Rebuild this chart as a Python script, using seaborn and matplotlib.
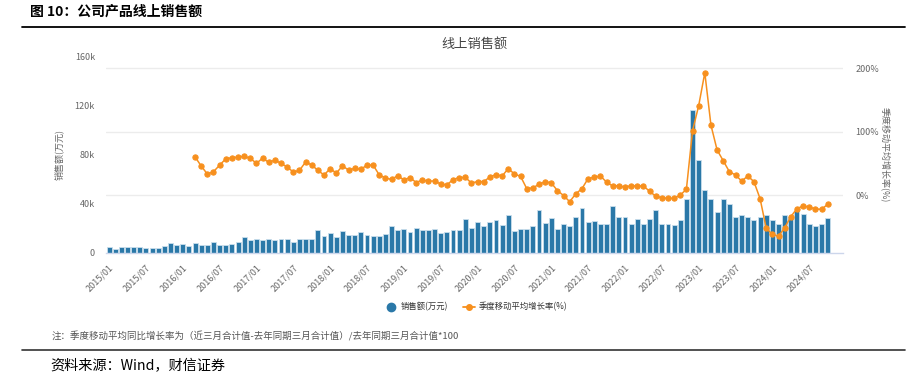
import numpy as np
import pandas as pd
import matplotlib
matplotlib.use("Agg")
import matplotlib.pyplot as plt
import matplotlib.transforms as mtransforms
from matplotlib.lines import Line2D
import seaborn as sns

sns.set_style("white")
plt.rcParams['font.family'] = ['Noto Sans CJK SC', 'DejaVu Sans']
plt.rcParams['axes.unicode_minus'] = False

# ===================== 数据 =====================
months = [f"{y}/{m:02d}" for y in range(2015, 2025) for m in range(1, 13)]  # 2015/01 - 2024/12

# 线上销售额 (k 万元), 2015/01 - 2024/10
sales = [
    4.6, 3.0, 5.1, 5.1, 5.1, 5.1, 4.1, 4.1, 4.1, 5.4,
    8.1, 6.8, 7.6, 5.7, 8.1, 6.8, 6.8, 8.7, 6.5, 6.2,
    7.6, 9.2, 13.3, 10.6, 11.1, 10.8, 11.1, 10.6, 11.6, 11.0,
    9.2, 11.1, 11.6, 11.1, 18.4, 13.5, 16.5, 12.7, 17.9, 14.9,
    14.9, 17.3, 14.4, 13.8, 13.8, 15.7, 22.2, 19.0, 19.5, 17.3,
    20.0, 19.0, 18.4, 19.5, 16.5, 17.1, 18.4, 18.7, 27.9, 20.0,
    25.2, 22.2, 25.2, 26.8, 22.7, 31.1, 18.1, 19.2, 19.5, 22.2,
    34.7, 24.6, 28.4, 19.5, 23.8, 22.2, 29.0, 36.8, 24.9, 25.7,
    23.3, 23.8, 38.5, 29.5, 29.0, 23.3, 27.9, 23.3, 27.9, 35.0,
    23.6, 23.6, 22.7, 26.8, 43.6, 116.0, 75.8, 50.9, 43.6, 33.3,
    43.6, 39.5, 29.5, 30.6, 29.5, 27.1, 29.5, 30.6, 26.5, 23.8,
    30.6, 29.5, 34.4, 31.7, 23.3, 22.2, 23.3, 28.2,
]

# 季度移动平均增长率 (%), 2016/03 - 2024/10
growth_start = "2016/03"
growth = [
    60, 45.7, 33, 36.7, 47, 57, 58.8, 59.8, 60.9, 57.7, 49.9, 58, 51.4, 55, 49.9, 44,
    36.2, 38.8, 52, 47.2, 38.8, 31.5, 41.5, 34.6, 45.7, 39.4, 42, 40.4, 47.2, 47,
    31.5, 26.8, 24.5, 30.5, 23.8, 27.5, 19.7, 23.6, 22, 22, 17.3, 16, 24.2, 27.5, 27.8, 18.9,
    21.2, 21.2, 28.3, 32.2, 29.9, 41.7, 33, 29.4, 10.2, 11.2, 16.8, 21, 19.1, 7,
    -0.8, -10.5, 2, 10, 26, 27.8, 30.2, 20.2, 14.2, 14.7, 12.3, 14.9, 13.9, 14.5, 5.8, -1.8,
    -4.2, -5.2, -5.2, 0, 8.9, 101, 140.6, 192.6, 110, 70.9, 54, 36.7, 31.5, 22, 29.9, 21,
    -5.8, -52.4, -61.9, -65, -51.6, -34.1, -21.5, -17.3, -18.9, -22, -22.5, -14.7,
]

bar_df = pd.DataFrame({"month": months[:len(sales)], "sales": sales})
g0 = months.index(growth_start)
line_df = pd.DataFrame({"pos": np.arange(g0, g0 + len(growth)), "growth": growth})

BAR_C = "#2a78a8"
LINE_C = "#f7901e"
GRID_C = "#ececec"
TXT_C = "#666666"

# ===================== 画图 =====================
fig = plt.figure(figsize=(9.09, 3.76), dpi=100)
ax = fig.add_axes([106 / 909, 1 - 253 / 376, (843 - 106) / 909, (253 - 56) / 376])
ax2 = ax.twinx()

sns.barplot(data=bar_df, x="month", y="sales", order=months, color=BAR_C,
            width=0.8, edgecolor="#c9deec", linewidth=0.6, saturation=1, ax=ax)

sns.lineplot(data=line_df, x="pos", y="growth", ax=ax2, color=LINE_C, linewidth=1.1,
             marker="o", markersize=3.8, markeredgecolor=LINE_C, zorder=5)

ax.set_xlim(-0.5, len(months) - 0.5)
ax.set_ylim(0, 160)
ax2.set_ylim(-91.3, 218.9)

# 左轴
ax.set_yticks([0, 40, 80, 120, 160])
ax.set_yticklabels(["0", "40k", "80k", "120k", "160k"])
ax.set_ylabel("销售额(万元)", fontsize=6.5, color=TXT_C, labelpad=8)
# 右轴
ax2.set_yticks([0, 100, 200])
ax2.set_yticklabels(["0%", "100%", "200%"])
ax2.set_ylabel("季度移动平均增长率(%)", fontsize=6.5, color=TXT_C, rotation=-90, labelpad=8)

# 网格线（右轴刻度），画在柱子下面
trans = mtransforms.blended_transform_factory(ax.transAxes, ax2.transData)
for v in ax2.get_yticks():
    ax.plot([0, 1], [v, v], transform=trans, color=GRID_C, linewidth=1.0, zorder=0)

# x 轴
tick_pos = list(range(0, len(months), 6))
ax.set_xticks(tick_pos)
ax.set_xticklabels([months[i] for i in tick_pos], rotation=45, ha="right",
                   rotation_mode="anchor")
ax.set_xlabel("")
ax2.set_xlabel("")

for a in (ax, ax2):
    for s in a.spines.values():
        s.set_visible(False)
ax.spines["bottom"].set_visible(True)
ax.spines["bottom"].set_color("#ccd6eb")
ax.spines["bottom"].set_linewidth(1.0)

ax.tick_params(axis="x", length=4, width=0.8, color="#ccd6eb", labelsize=6.5,
               labelcolor=TXT_C, pad=3)
ax.tick_params(axis="y", length=0, labelsize=6.5, labelcolor=TXT_C, pad=8)
ax2.tick_params(axis="y", length=0, labelsize=6.5, labelcolor=TXT_C, pad=9)

ax.set_title("线上销售额", fontsize=9.5, color="#444444", pad=6)

# 图例
handles = [
    Line2D([], [], color=BAR_C, marker="o", linestyle="none", markersize=6),
    Line2D([], [], color=LINE_C, marker="o", linewidth=1.3, markersize=4),
]
fig.legend(handles, ["销售额(万元)", "季度移动平均增长率(%)"], loc="center",
           bbox_to_anchor=(476 / 909, 1 - 307 / 376), ncol=2, frameon=False,
           fontsize=6, handlelength=1.5, columnspacing=1.8, handletextpad=0.4,
           labelcolor="#333333")

# 标题、注释、来源
fig.text(30 / 909, 1 - 12 / 376, "图 10：公司产品线上销售额", fontsize=10,
         fontweight="bold", va="center", ha="left", color="black")
fig.add_artist(Line2D([22 / 909, 905 / 909], [1 - 27 / 376] * 2, color="black", linewidth=1.3))
fig.text(52 / 909, 1 - 336 / 376,
         "注：季度移动平均同比增长率为（近三月合计值-去年同期三月合计值）/去年同期三月合计值*100",
         fontsize=6.8, va="center", ha="left", color="#555555")
fig.add_artist(Line2D([22 / 909, 905 / 909], [1 - 350 / 376] * 2, color="#333333", linewidth=1.2))
fig.text(50 / 909, 1 - 366 / 376, "资料来源：Wind，财信证券", fontsize=10.2, style="italic",
         va="center", ha="left", color="black")

plt.savefig("out.png", dpi=100)
